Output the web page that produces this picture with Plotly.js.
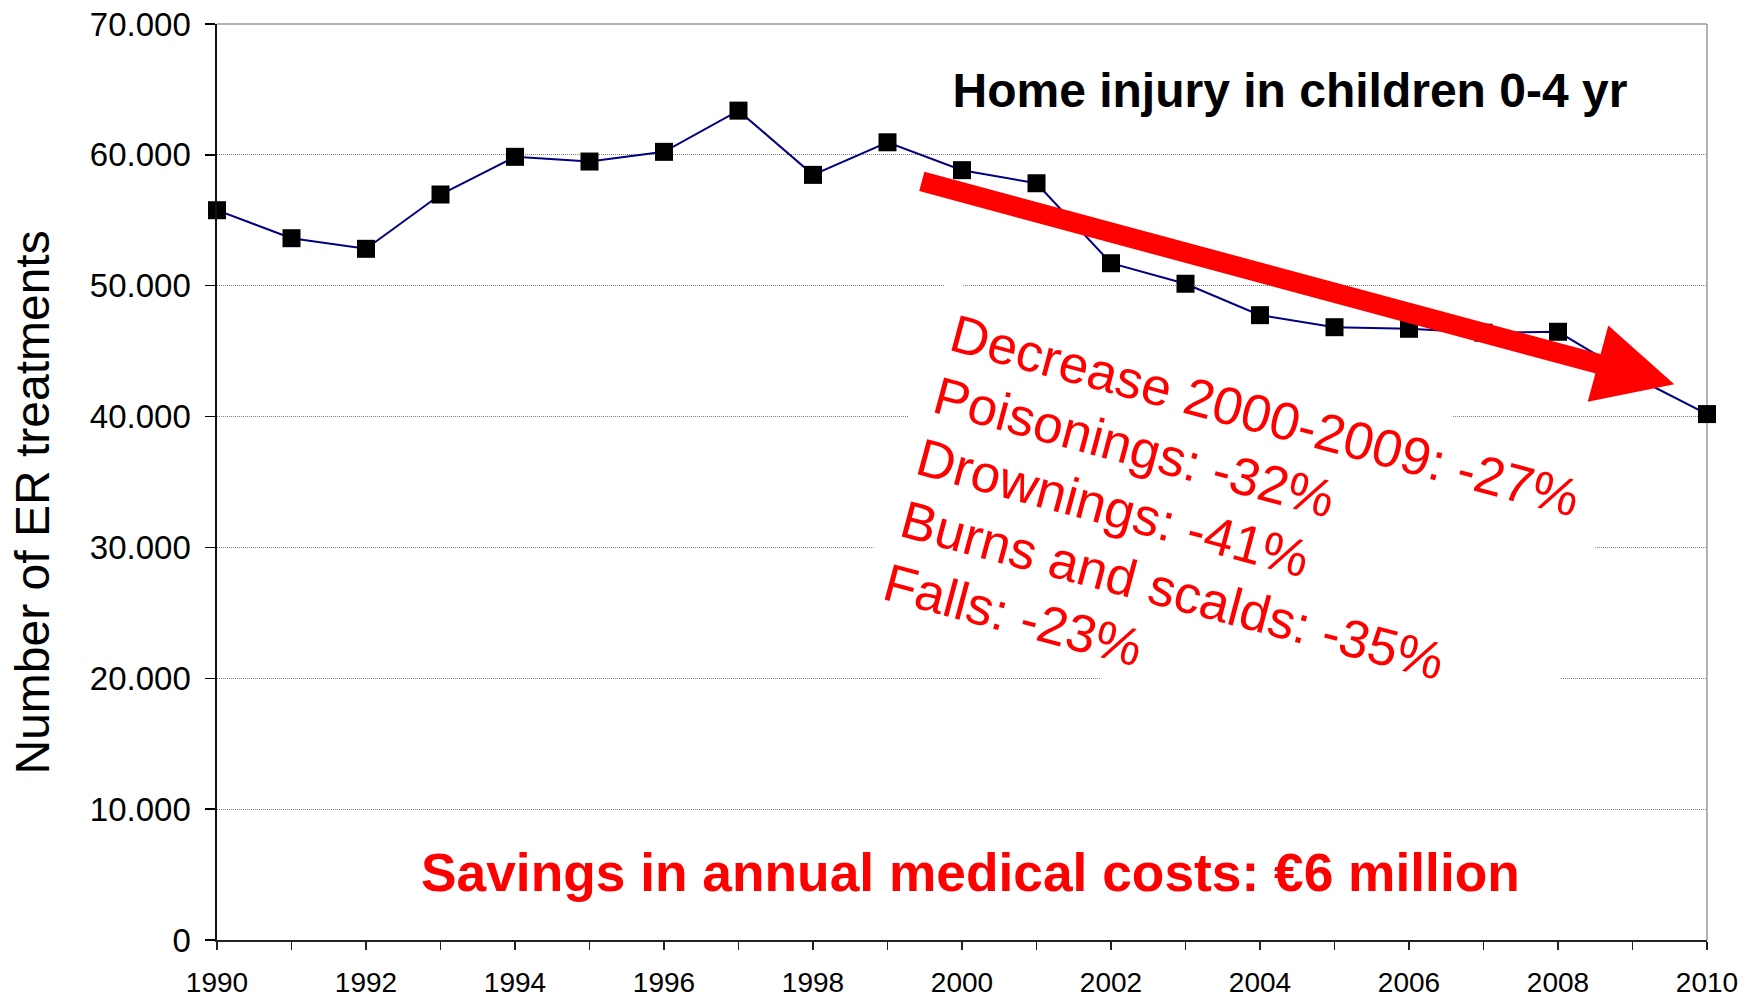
<!DOCTYPE html>
<html>
<head>
<meta charset="utf-8">
<script src="https://cdn.plot.ly/plotly-3.0.1.min.js"></script>
<style>
  html, body { margin: 0; padding: 0; background: #ffffff; }
  #chart { width: 1755px; height: 997px; }
</style>
</head>
<body>
<div id="chart"></div>
<script>
// ---- data ----
const years = [1990, 1991, 1992, 1993, 1994, 1995, 1996, 1997, 1998, 1999, 2000,
               2001, 2002, 2003, 2004, 2005, 2006, 2007, 2008, 2009, 2010];
const erTreatments = [55770, 53630, 52820, 56970, 59850, 59490, 60230, 63380, 58470, 60960, 58830,
                      57830, 51720, 50150, 47750, 46830, 46710, 46410, 46480, 43100, 40190];

const xTickVals = [1990, 1991, 1992, 1993, 1994, 1995, 1996, 1997, 1998, 1999, 2000,
                   2001, 2002, 2003, 2004, 2005, 2006, 2007, 2008, 2009, 2010];
const xTickText = ['1990', '', '1992', '', '1994', '', '1996', '', '1998', '', '2000',
                   '', '2002', '', '2004', '', '2006', '', '2008', '', '2010'];
const yTickVals = [0, 10000, 20000, 30000, 40000, 50000, 60000, 70000];
const yTickText = ['0', '10.000', '20.000', '30.000', '40.000', '50.000', '60.000', '70.000'];

const chartTitle = 'Home injury in children 0-4 yr';
const yAxisTitle = 'Number of ER treatments';
const noteLines = ['Decrease 2000-2009: -27%', 'Poisonings: -32%', 'Drownings: -41%',
                   'Burns and scalds: -35%', 'Falls: -23%'];
const savingsNote = 'Savings in annual medical costs: €6 million';

// ---- layout helpers (positions in paper fractions of the plot area) ----
const FONT = 'Liberation Sans, Arial, sans-serif';
const noteX = [0.7072, 0.6960, 0.6848, 0.6736, 0.6624];
const noteY = [0.5715, 0.5034, 0.4354, 0.3674, 0.2993];

const annotations = [];
// white backing box behind the rotated note
annotations.push({
  xref: 'paper', yref: 'paper', x: 0.6846, y: 0.4405,
  xanchor: 'center', yanchor: 'middle',
  text: ' ', showarrow: false, textangle: 15,
  width: 697, height: 344, borderpad: 0, borderwidth: 0,
  bgcolor: '#ffffff', font: {size: 10, family: FONT}
});
noteLines.forEach(function (line, i) {
  annotations.push({
    xref: 'paper', yref: 'paper', x: noteX[i], y: noteY[i],
    xanchor: 'center', yanchor: 'middle',
    text: line, showarrow: false, textangle: 15,
    width: 660, height: 64, align: 'left', valign: 'middle',
    borderpad: 0, borderwidth: 0,
    font: {size: 53, family: FONT, color: '#ff0000'}
  });
});
// big red arrow
annotations.push({
  xref: 'paper', yref: 'paper', x: 0.97805, y: 0.60666,
  ax: -753, ay: -203,
  text: ' ', font: {size: 1, family: FONT},
  showarrow: true, arrowhead: 2, arrowsize: 0.79, arrowwidth: 20,
  arrowcolor: '#ff0000', standoff: 0, borderpad: 0
});
// savings note
annotations.push({
  xref: 'paper', yref: 'paper', x: 0.506, y: 0.0742,
  xanchor: 'center', yanchor: 'middle',
  text: '<b>' + savingsNote + '</b>', showarrow: false,
  font: {size: 53.3, family: FONT, color: '#ff0000'}
});
// y-axis title
annotations.push({
  xref: 'paper', yref: 'paper', x: -0.1238, y: 0.4771,
  xanchor: 'center', yanchor: 'middle',
  text: yAxisTitle, showarrow: false, textangle: -90,
  font: {size: 48, family: FONT, color: '#000000'}
});

const trace = {
  type: 'scatter', mode: 'lines+markers',
  x: years, y: erTreatments,
  line: {color: '#000080', width: 2},
  marker: {symbol: 'square', size: 18, color: '#000000', line: {width: 0}},
  cliponaxis: false, showlegend: false, hoverinfo: 'x+y'
};

const layout = {
  width: 1755, height: 997,
  margin: {l: 217, r: 48, t: 24, b: 57},
  paper_bgcolor: '#ffffff', plot_bgcolor: '#ffffff',
  font: {family: FONT, color: '#000000'},
  showlegend: false,
  title: {
    text: '<b>' + chartTitle + '</b>',
    xref: 'paper', yref: 'paper', x: 0.7201, y: 0.9279,
    xanchor: 'center', yanchor: 'middle',
    font: {size: 48, family: FONT, color: '#000000'}
  },
  xaxis: {
    range: [1990, 2010], autorange: false,
    tickmode: 'array', tickvals: xTickVals, ticktext: xTickText,
    ticks: 'outside', ticklen: 8, tickwidth: 1.5, tickcolor: '#222222',
    ticklabelstandoff: 8,
    tickfont: {size: 28, family: FONT, color: '#000000'},
    showline: true, linecolor: '#222222', linewidth: 2,
    showgrid: false, zeroline: false, fixedrange: true
  },
  yaxis: {
    range: [0, 70000], autorange: false,
    tickmode: 'array', tickvals: yTickVals, ticktext: yTickText,
    ticks: 'outside', ticklen: 10, tickwidth: 1.5, tickcolor: '#000000',
    ticklabelstandoff: 8,
    tickfont: {size: 33, family: FONT, color: '#000000'},
    showline: true, linecolor: '#111111', linewidth: 1.6,
    showgrid: true, gridcolor: '#808080', gridwidth: 1, griddash: '1px,1px',
    zeroline: false, fixedrange: true
  },
  shapes: [
    {type: 'line', xref: 'paper', yref: 'paper', x0: 0, x1: 1, y0: 1, y1: 1,
     line: {color: '#999999', width: 1.5}, layer: 'below'},
    {type: 'line', xref: 'paper', yref: 'paper', x0: 1, x1: 1, y0: 0, y1: 1,
     line: {color: '#999999', width: 1.5}, layer: 'below'}
  ],
  annotations: annotations
};

Plotly.newPlot('chart', [trace], layout, {staticPlot: true, displayModeBar: false});
</script>
</body>
</html>
